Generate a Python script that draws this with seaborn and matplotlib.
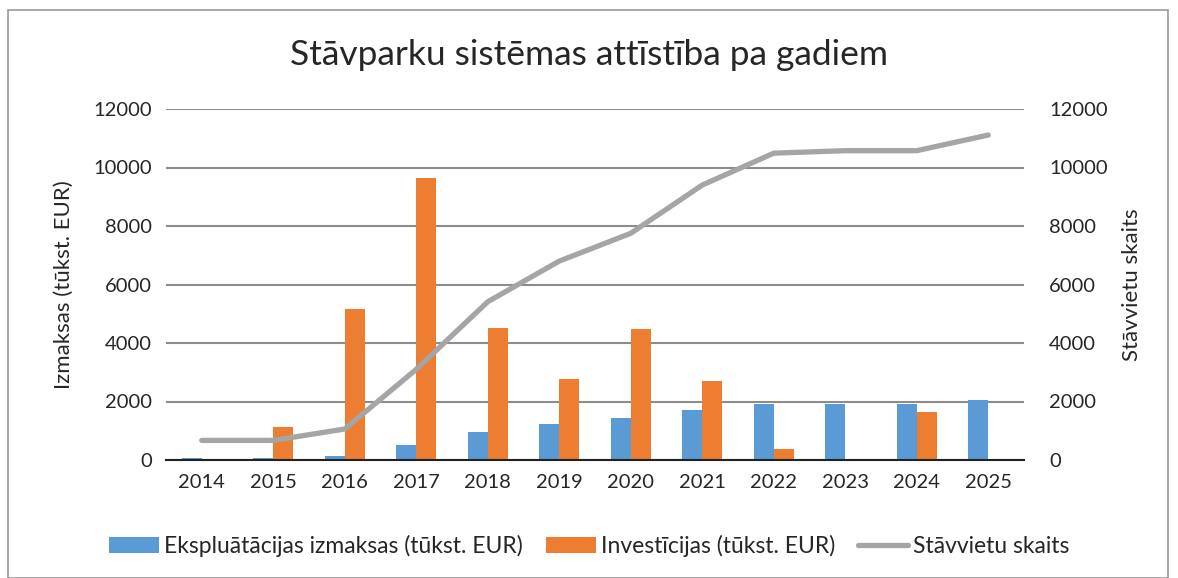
import numpy as np
import pandas as pd
import matplotlib.pyplot as plt
import seaborn as sns
from matplotlib.patches import Rectangle

years = ["2014", "2015", "2016", "2017", "2018", "2019", "2020", "2021", "2022", "2023", "2024", "2025"]
ekspl = [60, 60, 140, 510, 970, 1220, 1425, 1710, 1925, 1925, 1925, 2040]
invest = [0, 1130, 5160, 9650, 4520, 2770, 4480, 2690, 370, 0, 1650, 0]
vietas = [670, 670, 1060, 3100, 5410, 6800, 7750, 9400, 10490, 10575, 10575, 11110]

lab_e = "Eksplu\u0101t\u0101cijas izmaksas (t\u016bkst. EUR)"
lab_i = "Invest\u012bcijas (t\u016bkst. EUR)"
lab_v = "St\u0101vvietu skaits"

df = pd.DataFrame({"gads": years * 2,
                   "vertiba": ekspl + invest,
                   "serija": [lab_e] * len(years) + [lab_i] * len(years)})

sns.set_style("white")
plt.rcParams['font.family'] = ['Lato', 'DejaVu Sans']

fig = plt.figure(figsize=(11.78, 5.78), dpi=100)
ax = fig.add_axes([166 / 1178, 1 - 460 / 578, (1024 - 166) / 1178, (460 - 109) / 578])

# stabini
sns.barplot(data=df, x="gads", y="vertiba", hue="serija", order=years,
            palette=["#5B9BD5", "#ED7D31"], width=0.56, gap=0, ax=ax,
            saturation=1, edgecolor="none")
ax.set_ylim(0, 12000)
ax.set_yticks(range(0, 12001, 2000))
ax.yaxis.grid(True, color="#8c8c8c", linewidth=1.5)
ax.set_axisbelow(True)
ax.set_xlabel("")
ax.set_ylabel("Izmaksas (t\u016bkst. EUR)", fontsize=16, labelpad=14)
for s in ["top", "right", "left"]:
    ax.spines[s].set_visible(False)
ax.spines["bottom"].set_color("#222222")
ax.spines["bottom"].set_linewidth(1.5)
ax.tick_params(axis="both", length=0, labelsize=14.5, pad=10)
ax.set_xlim(-0.5, len(years) - 0.5)

# linija uz otras ass
ax2 = ax.twinx()
sns.lineplot(x=np.arange(len(years)), y=vietas, color="#A5A5A5", linewidth=3.8,
             ax=ax2, label=lab_v, solid_capstyle="round")
ax2.set_ylim(0, 12000)
ax2.set_yticks(range(0, 12001, 2000))
ax2.set_ylabel(lab_v, fontsize=16, labelpad=10)
for s in ax2.spines.values():
    s.set_visible(False)
ax2.tick_params(axis="y", length=0, labelsize=14.5, pad=18)
ax2.set_xlim(-0.5, len(years) - 0.5)

h1, l1 = ax.get_legend_handles_labels()
h2, l2 = ax2.get_legend_handles_labels()
ax.get_legend().remove()
ax2.get_legend().remove()
fig.legend(h1 + h2, l1 + l2, loc="center", bbox_to_anchor=(0.5, 1 - 546 / 578),
           ncol=3, frameon=False, fontsize=16.5, handlelength=2.2,
           handletextpad=0.2, columnspacing=1.0)

fig.text(0.5, 1 - 55 / 578, "St\u0101vparku sist\u0113mas att\u012bst\u012bba pa gadiem",
         ha="center", va="center", fontsize=25.5)

fig.patches.append(Rectangle((8 / 1178, 0), 1160 / 1178, 1 - 10 / 578,
                             transform=fig.transFigure, fill=False,
                             edgecolor="#9a9a9a", linewidth=1.2))

fig.savefig("out.png", dpi=100)
